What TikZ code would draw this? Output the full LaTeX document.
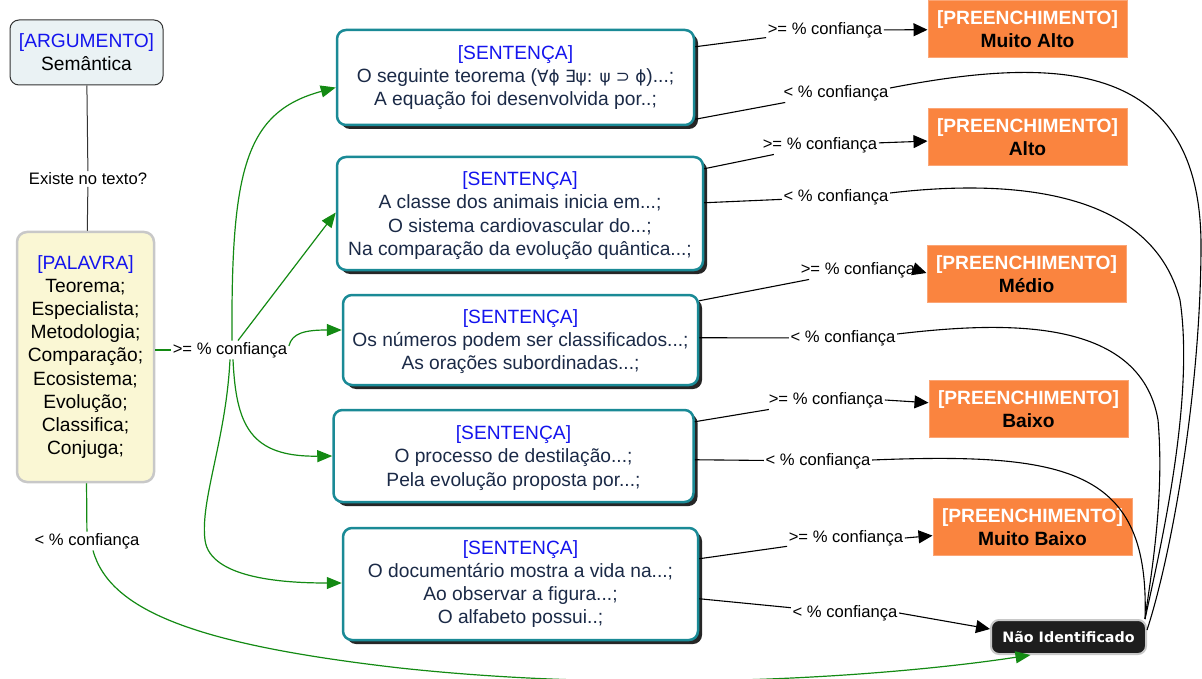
\documentclass[tikz,border=0pt]{standalone}
\usepackage{fontspec}
\setmainfont{Liberation Sans}
\newfontfamily\dejavu{DejaVu Sans}
\newfontfamily\dejavubold{DejaVu Sans Bold}
\usetikzlibrary{arrows.meta,shadows,calc}

\definecolor{hdrblue}{HTML}{1414EE}
\definecolor{navytext}{HTML}{1B2A47}
\definecolor{tealline}{HTML}{1A8A96}
\definecolor{argfill}{HTML}{EAF2F4}
\definecolor{palfill}{HTML}{FAF7D4}
\definecolor{palline}{HTML}{C8C8C8}
\definecolor{orangefill}{HTML}{FA843F}
\definecolor{orangeline}{HTML}{FBA575}
\definecolor{flowgreen}{HTML}{138A13}
\definecolor{nifill}{HTML}{1E1E1E}

\newcommand{\hdr}[1]{\textcolor{hdrblue}{#1}}
% taller first line, pushes a box's text a little downwards
\newcommand{\lowerby}[1]{\rule{0pt}{\dimexpr 14pt+2\dimexpr #1\relax\relax}}

\begin{document}
\begin{tikzpicture}[x=1pt,y=-1pt,
  nodetext/.style={font=\fontsize{19.2}{23.2}\selectfont, align=center, inner sep=2pt},
  argbox/.style={nodetext, draw=black!80, fill=argfill, line width=1pt, rounded corners=9pt},
  palbox/.style={nodetext, draw=palline, fill=palfill, line width=2.5pt, rounded corners=10pt},
  sentbox/.style={nodetext, text=navytext, draw=tealline, fill=white, line width=2.5pt,
    rounded corners=9pt,
    drop shadow={shadow xshift=4pt, shadow yshift=-4pt, opacity=1, fill=black!85}},
  fillbox/.style={nodetext, font=\fontsize{19.2}{23.2}\selectfont\bfseries, draw=orangeline,
    fill=orangefill, line width=1pt, minimum width=199pt, minimum height=57pt},
  nibox/.style={draw=palline, fill=nifill, line width=2pt, rounded corners=8pt, text=white,
    font=\dejavubold\fontsize{14.3}{17}\selectfont, minimum width=155pt, minimum height=34pt},
  lbl/.style={font=\fontsize{16.6}{19}\selectfont, inner sep=1.5pt},
  blk/.style={draw=black, line width=1.1pt},
  blkarrow/.style={blk, -{Triangle[length=14pt,width=13pt]}},
  grn/.style={draw=flowgreen, line width=1.2pt},
  grnarrow/.style={grn, -{Triangle[length=15pt,width=12pt]}}
]
\useasboundingbox (0,0) rectangle (1202,679);

% left column
\node[argbox, minimum width=153pt, minimum height=65pt] (arg) at (86.5,52.5)
  {\hdr{[ARGUMENTO]}\\Semântica};
\node[palbox, minimum width=137pt, minimum height=250pt] (pal) at (85.5,357)
  {\hdr{[PALAVRA]}\\Teorema;\\Especialista;\\Metodologia;\\Comparação;\\Ecosistema;\\Evolução;\\Classifica;\\Conjuga;};
\node[lbl] (exist) at (88,179) {Existe no texto?};
\node[lbl] (palge) at (230,350) {>= \% confiança};
\node[lbl] (pallt) at (87,541) {< \% confiança};

% sentence boxes
\node[sentbox, minimum width=357pt, minimum height=95pt] (s1) at (515.5,77.5)
  {\hdr{[SENTENÇA]}\\O seguinte teorema ({\dejavu\fontsize{16.8}{23}\selectfont ∀ϕ ∃ψ: ψ ⊃ ϕ})...;\\A equação foi desenvolvida por..;};
\node[sentbox, minimum width=366pt, minimum height=113pt] (s2) at (520,213.5)
  {\lowerby{2pt}\hdr{[SENTENÇA]}\\A classe dos animais inicia em...;\\O sistema cardiovascular do...;\\Na comparação da evolução quântica...;};
\node[sentbox, minimum width=355pt, minimum height=90pt] (s3) at (520.5,340)
  {\lowerby{1.5pt}\hdr{[SENTENÇA]}\\Os números podem ser classificados...;\\As orações subordinadas...;};
\node[sentbox, minimum width=360pt, minimum height=92pt] (s4) at (513.5,456)
  {\lowerby{2pt}\hdr{[SENTENÇA]}\\O processo de destilação...;\\Pela evolução proposta por...;};
\node[sentbox, minimum width=355pt, minimum height=112pt] (s5) at (520.5,584)
  {\hdr{[SENTENÇA]}\\O documentário mostra a vida na...;\\Ao observar a figura...;\\O alfabeto possui..;};

% fill level boxes
\node[fillbox] (ma) at (1027.5,29.5) {\textcolor{white}{[PREENCHIMENTO]}\\Muito Alto};
\node[fillbox] (al) at (1027.5,137.5) {\textcolor{white}{[PREENCHIMENTO]}\\Alto};
\node[fillbox] (me) at (1026.5,274) {\textcolor{white}{[PREENCHIMENTO]}\\Médio};
\node[fillbox] (ba) at (1028.5,409) {\textcolor{white}{[PREENCHIMENTO]}\\Baixo};
\node[fillbox] (mb) at (1032.5,527) {\textcolor{white}{[PREENCHIMENTO]}\\Muito Baixo};
\node[nibox] (ni) at (1068.5,637) {Não Identificado};

% connector labels on the right
\node[lbl] (ge1) at (825,30) {>= \% confiança};
\node[lbl] (lt1) at (836,93) {< \% confiança};
\node[lbl] (ge2) at (820,145) {>= \% confiança};
\node[lbl] (lt2) at (836,197) {< \% confiança};
\node[lbl] (ge3) at (858,270) {>= \% confiança};
\node[lbl] (lt3) at (843,338) {< \% confiança};
\node[lbl] (ge4) at (826,400) {>= \% confiança};
\node[lbl] (lt4) at (818,461) {< \% confiança};
\node[lbl] (ge5) at (846,538) {>= \% confiança};
\node[lbl] (lt5) at (845,613) {< \% confiança};

% argument to word list
\draw[draw=black!80, line width=1pt] (arg) -- (exist);
\draw[draw=black!80, line width=1pt] (exist) -- (pal);

% word list to sentences
\draw[grn] (pal.east |- palge) -- (palge);
\draw[grnarrow] ($(palge.north)+(2,0)$) .. controls (231,170) and (245,112) .. ($(s1.west)+(0,10)$);
\draw[grnarrow] ($(palge.north)+(8,0)$) -- ($(s2.west)+(0,-1)$);
\draw[grnarrow] ($(palge.east)+(0,-4)$) .. controls (292,333) and (305,330) .. ($(s3.west)+(0,-10)$);
\draw[grnarrow] ($(palge.south)+(3,0)$) .. controls (236,425) and (250,457) .. (s4.west);
\draw[grnarrow] ($(palge.south)+(0,0)$) .. controls (226,440) and (200,500) .. (205,540)
  .. controls (210,580) and (290,583) .. ($(s5.west)+(0,-1)$);
\draw[grn] (pal) -- (pallt);
\draw[grnarrow] ($(pallt.south)+(6,0)$) .. controls (110,612) and (200,645) .. (400,668)
  .. controls (650,695) and (900,675) .. ($(ni.south)+(-38,0)$);

% sentences to fill levels
\draw[blk] ($(s1.north east)+(0,18)$) -- (ge1);
\draw[blkarrow] (ge1) -- (ma);
\draw[blk] ($(s1.south east)+(0,-7)$) -- (lt1);
\draw[blk] ($(s2.north east)+(0,13)$) -- (ge2);
\draw[blkarrow] (ge2) -- (al);
\draw[blk] ($(s2.north east)+(0,47)$) -- (lt2);
\draw[blk] ($(s3.north east)+(0,7)$) -- (ge3);
\draw[blkarrow] (ge3.east) -- ($(me.west)+(0,-1)$);
\draw[blk] ($(s3.north east)+(0,44)$) -- (lt3);
\draw[blk] ($(s4.north east)+(0,13)$) -- (ge4);
\draw[blkarrow] (ge4.east) -- (ba);
\draw[blk] ($(s4.north east)+(0,51)$) -- (lt4);
\draw[blk] ($(s5.north east)+(0,32)$) -- (ge5);
\draw[blkarrow] (ge5.east) -- (mb);
\draw[blk] ($(s5.north east)+(0,72)$) -- (lt5);
\draw[blkarrow] (lt5.east) -- ($(ni.west)+(0,-8)$);

% low confidence routes to "Não Identificado"
\draw[blk] ($(lt1.east)+(0,-5)$) .. controls (1060,55) and (1203,60) .. (1201,250)
  .. controls (1200,400) and (1170,560) .. ($(ni.east)+(0,-7)$);
\draw[blk] ($(lt2.east)+(0,-4)$) .. controls (1000,180) and (1150,185) .. (1180,300)
  .. controls (1195,400) and (1160,550) .. ($(ni.north east)+(-2,0)$);
\draw[blk] ($(lt3.east)+(0,-4)$) .. controls (1000,322) and (1140,315) .. (1158,420)
  .. controls (1165,500) and (1150,580) .. ($(ni.north east)+(-2,0)$);
\draw[blk] ($(lt4.east)+(0,-1)$) .. controls (1070,452) and (1150,470) .. ($(ni.north east)+(-2,0)$);
\end{tikzpicture}
\end{document}
